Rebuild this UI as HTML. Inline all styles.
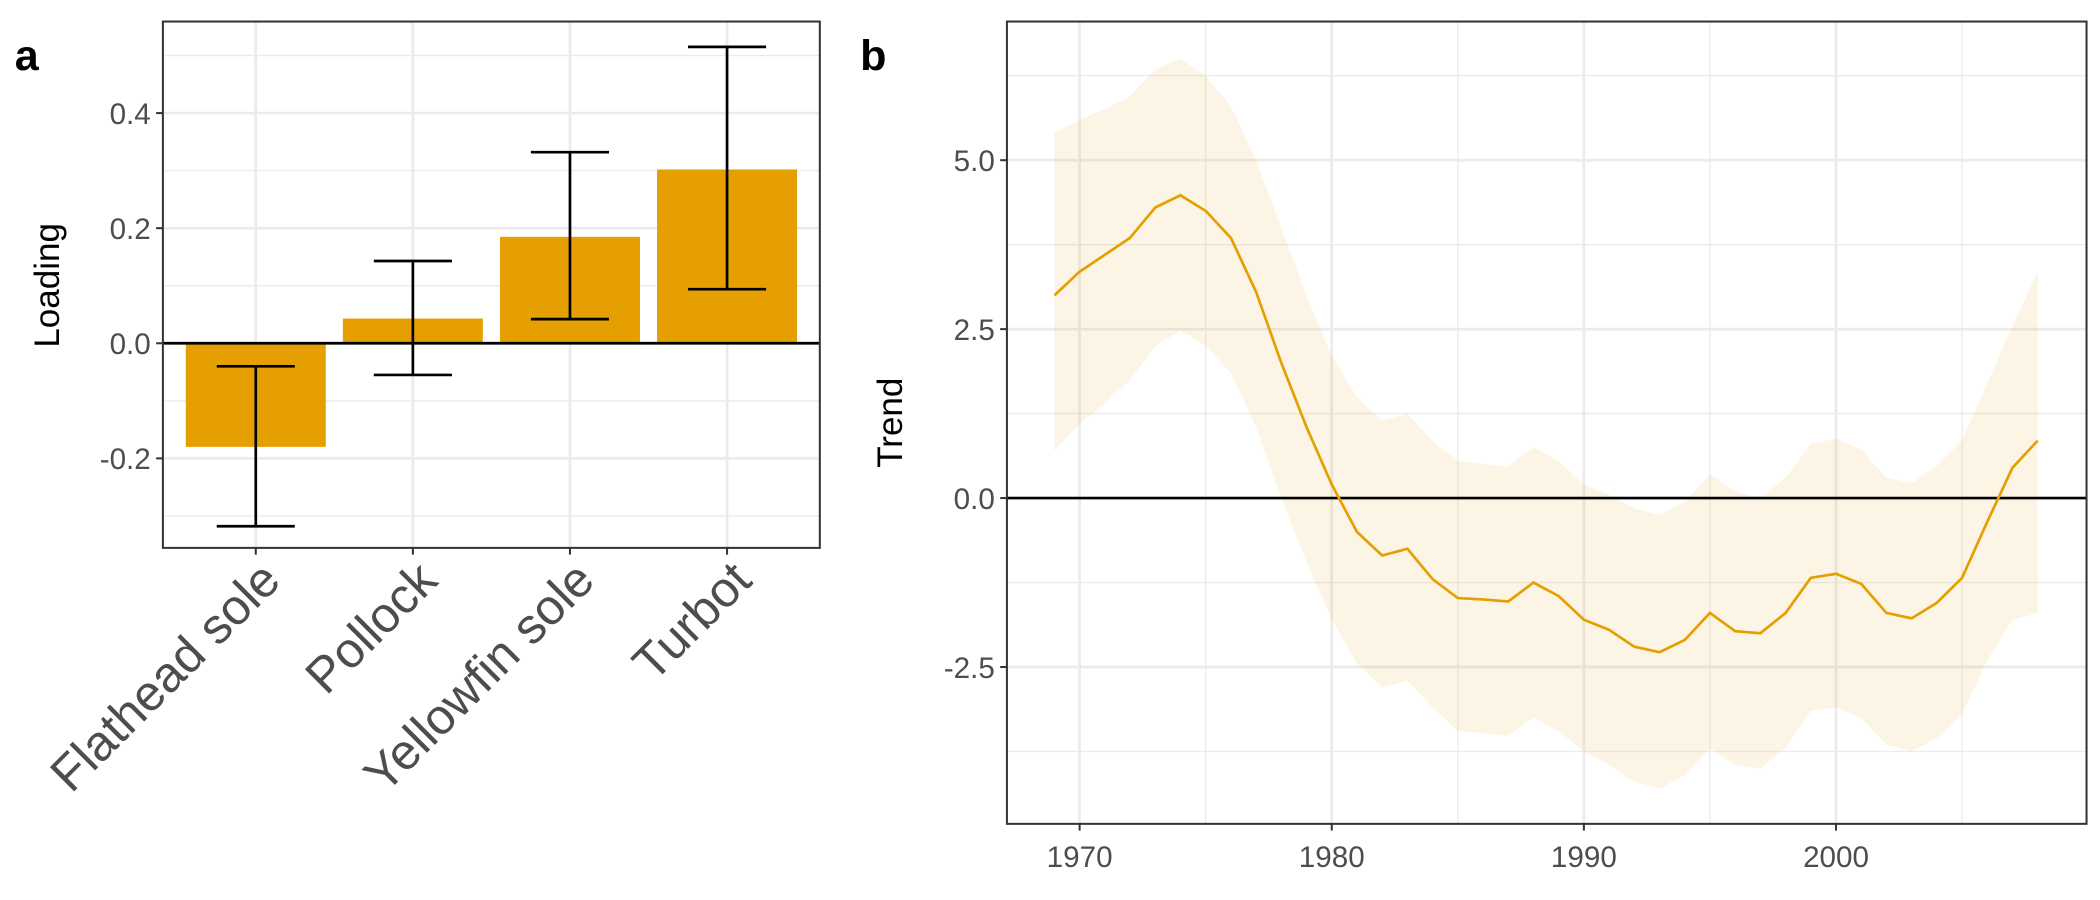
<!DOCTYPE html>
<html><head><meta charset="utf-8"><style>html,body{margin:0;padding:0;background:#fff}svg{display:block}text{font-family:"Liberation Sans",sans-serif}</style></head>
<body>
<svg id="c" width="2100" height="900" viewBox="0 0 1560 668.57" preserveAspectRatio="none" xmlns="http://www.w3.org/2000/svg"></svg>
<script>
const species=["Flathead sole","Pollock","Yellowfin sole","Turbot"];
const loading=[-0.18,0.043,0.185,0.302];
const loadLo=[-0.318,-0.055,0.042,0.094];
const loadHi=[-0.04,0.143,0.332,0.515];
const aTicks=[-0.2,0.0,0.2,0.4];
const aTickLabels=["-0.2","0.0","0.2","0.4"];
const years=[1969,1970,1971,1972,1973,1974,1975,1976,1977,1978,1979,1980,1981,1982,1983,1984,1985,1986,1987,1988,1989,1990,1991,1992,1993,1994,1995,1996,1997,1998,1999,2000,2001,2002,2003,2004,2005,2006,2007,2008];
const trend=[3.0,3.35,3.6,3.85,4.3,4.48,4.25,3.85,3.05,2.0,1.05,0.2,-0.5,-0.85,-0.75,-1.2,-1.48,-1.5,-1.53,-1.25,-1.45,-1.8,-1.95,-2.2,-2.28,-2.1,-1.7,-1.97,-2.0,-1.7,-1.18,-1.12,-1.27,-1.7,-1.78,-1.55,-1.18,-0.35,0.45,0.85];
const upper=[5.4,5.6,5.75,5.95,6.35,6.5,6.25,5.8,5.0,4.0,3.0,2.1,1.5,1.15,1.25,0.85,0.55,0.5,0.47,0.75,0.55,0.2,0.05,-0.15,-0.25,-0.05,0.35,0.1,0.0,0.3,0.8,0.88,0.72,0.3,0.22,0.48,0.85,1.7,2.55,3.35];
const lower=[0.7,1.1,1.4,1.75,2.25,2.48,2.25,1.85,1.05,0.0,-0.95,-1.8,-2.45,-2.8,-2.7,-3.1,-3.45,-3.48,-3.52,-3.25,-3.45,-3.75,-3.95,-4.2,-4.3,-4.1,-3.7,-3.95,-4.0,-3.7,-3.15,-3.1,-3.25,-3.65,-3.75,-3.55,-3.2,-2.4,-1.8,-1.7];
const bTicks=[-2.5,0,2.5,5.0];
const bTickLabels=["-2.5","0.0","2.5","5.0"];
const xTicks=[1970,1980,1990,2000];

const svg=document.getElementById('c');const NS="http://www.w3.org/2000/svg";
function el(t,a,p){const e=document.createElementNS(NS,t);for(const k in a)e.setAttribute(k,a[k]);(p||svg).appendChild(e);return e;}
const OR="#E69F00";
// Panel a
const aL=121,aR=609,aT=16,aB=407;
const ay=v=>255-v*427.5;
const ax=i=>190+i*116.7;
const ga=el('g',{});

[-0.3,-0.1,0.1,0.3,0.5].forEach(v=>el('line',{x1:aL,x2:aR,y1:ay(v),y2:ay(v),stroke:"#ebebeb","stroke-width":1},ga));
aTicks.forEach(v=>el('line',{x1:aL,x2:aR,y1:ay(v),y2:ay(v),stroke:"#ebebeb","stroke-width":2},ga));
species.forEach((s,i)=>el('line',{x1:ax(i),x2:ax(i),y1:aT,y2:aB,stroke:"#ebebeb","stroke-width":2},ga));
species.forEach((s,i)=>{const v=loading[i];const r=el('rect',{x:ax(i)-52,width:104,y:Math.min(ay(v),ay(0)),height:Math.abs(ay(v)-ay(0)),fill:OR},ga);
});
el('line',{x1:aL,x2:aR,y1:ay(0),y2:ay(0),stroke:"#000","stroke-width":2},ga);
species.forEach((s,i)=>{const g=el('g',{stroke:"#000","stroke-width":2},ga);
el('line',{x1:ax(i),x2:ax(i),y1:ay(loadLo[i]),y2:ay(loadHi[i])},g);
el('line',{x1:ax(i)-29,x2:ax(i)+29,y1:ay(loadLo[i]),y2:ay(loadLo[i])},g);
el('line',{x1:ax(i)-29,x2:ax(i)+29,y1:ay(loadHi[i]),y2:ay(loadHi[i])},g);});
el('rect',{x:aL,y:aT,width:aR-aL,height:aB-aT,fill:"none",stroke:"#333","stroke-width":1.5},ga);
aTicks.forEach((v,i)=>{el('line',{x1:aL-5,x2:aL,y1:ay(v),y2:ay(v),stroke:"#333","stroke-width":1.5},ga);
const t=el('text',{x:aL-9,y:ay(v)+8,"text-anchor":"end","font-size":22,fill:"#4d4d4d"},ga);t.textContent=aTickLabels[i];});
species.forEach((s,i)=>{el('line',{x1:ax(i),x2:ax(i),y1:aB,y2:aB+5,stroke:"#333","stroke-width":1.5},ga);
const t=el('text',{x:ax(i)+20,y:aB+26,"text-anchor":"end","font-size":37,fill:"#4d4d4d",transform:`rotate(-45 ${ax(i)+20} ${aB+26})`},ga);t.textContent=s;
});
const ylA=el('text',{x:44,y:212,"text-anchor":"middle","font-size":26,fill:"#000",transform:"rotate(-90 44 212)"},ga);ylA.textContent="Loading";

const la=el('text',{x:11,y:52,"font-size":32,"font-weight":"bold"},ga);la.textContent="a";

// Panel b
const bL=748,bR=1550,bT=16,bB=612;
const by=v=>370-v*50.2;
const bx=y=>802+(y-1970)*18.73;
const gb=el('g',{});

[-3.75,-1.25,1.25,3.75,6.25].forEach(v=>el('line',{x1:bL,x2:bR,y1:by(v),y2:by(v),stroke:"#ebebeb","stroke-width":1},gb));
bTicks.forEach(v=>el('line',{x1:bL,x2:bR,y1:by(v),y2:by(v),stroke:"#ebebeb","stroke-width":2},gb));
[1975,1985,1995,2005].forEach(v=>el('line',{x1:bx(v),x2:bx(v),y1:bT,y2:bB,stroke:"#ebebeb","stroke-width":1},gb));
xTicks.forEach(v=>el('line',{x1:bx(v),x2:bx(v),y1:bT,y2:bB,stroke:"#ebebeb","stroke-width":2},gb));
let d=years.map((y,i)=>(i?'L':'M')+bx(y)+','+by(upper[i])).join('')+years.slice().reverse().map((y,j)=>'L'+bx(y)+','+by(lower[years.length-1-j])).join('')+'Z';
const rib=el('path',{d:d,fill:OR,"fill-opacity":0.1},gb);
el('line',{x1:bL,x2:bR,y1:by(0),y2:by(0),stroke:"#000","stroke-width":2},gb);
const ln=el('path',{d:years.map((y,i)=>(i?'L':'M')+bx(y)+','+by(trend[i])).join(''),fill:"none",stroke:OR,"stroke-width":2},gb);

el('rect',{x:bL,y:bT,width:bR-bL,height:bB-bT,fill:"none",stroke:"#333","stroke-width":1.5},gb);
bTicks.forEach((v,i)=>{el('line',{x1:bL-5,x2:bL,y1:by(v),y2:by(v),stroke:"#333","stroke-width":1.5},gb);
const t=el('text',{x:bL-9,y:by(v)+8,"text-anchor":"end","font-size":22,fill:"#4d4d4d"},gb);t.textContent=bTickLabels[i];});
xTicks.forEach(v=>{el('line',{x1:bx(v),x2:bx(v),y1:bB,y2:bB+5,stroke:"#333","stroke-width":1.5},gb);
const t=el('text',{x:bx(v),y:bB+32,"text-anchor":"middle","font-size":22,fill:"#4d4d4d"},gb);t.textContent=v;});
const ylB=el('text',{x:670,y:314,"text-anchor":"middle","font-size":26,fill:"#000",transform:"rotate(-90 670 314)"},gb);ylB.textContent="Trend";

const lb=el('text',{x:639,y:52,"font-size":32,"font-weight":"bold"},gb);lb.textContent="b";
</script>
</body></html>
